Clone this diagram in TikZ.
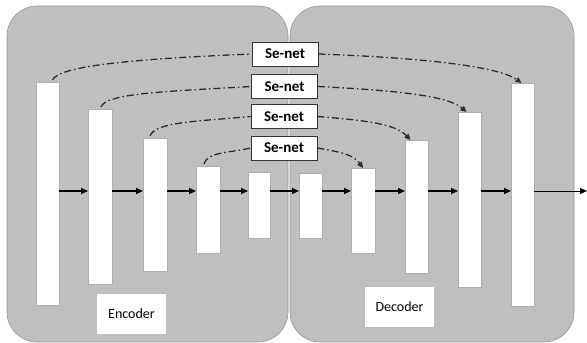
\documentclass[tikz,border=0pt]{standalone}
\usepackage{fontspec}
\setmainfont{Carlito}
\usetikzlibrary{arrows.meta,calc}
\definecolor{panelgray}{RGB}{191,191,191}
\definecolor{paneledge}{RGB}{150,150,150}
\definecolor{baredge}{RGB}{175,175,175}
\definecolor{skipcol}{RGB}{45,45,45}
\begin{document}
\begin{tikzpicture}[x=1pt,y=1pt,
  panel/.style={fill=panelgray,draw=paneledge,line width=0.6pt,rounded corners=30pt},
  bar/.style={fill=white,draw=baredge,line width=0.5pt,inner sep=0pt,outer sep=0pt,anchor=north west},
  sebox/.style={fill=white,draw=black!80,line width=0.8pt,minimum width=66pt,minimum height=24pt,inner sep=0pt,font=\fontsize{15}{16}\selectfont\bfseries},
  lbl/.style={fill=white,inner sep=0pt,font=\fontsize{14}{15}\selectfont},
  flow/.style={line width=1.3pt,-{Triangle[length=7pt,width=6pt]}},
  skip/.style={line width=1.3pt,skipcol,dash pattern=on 7pt off 3pt on 1.5pt off 3pt},
  skiparrow/.style={skip,-{Triangle[length=6pt,width=5.5pt]}}]
\useasboundingbox (0,0) rectangle (587,-343);
% panels
\draw[panel] (7,-6) rectangle (288,-342);
\draw[panel] (290,-6) rectangle (574,-342);
% encoder bars
\node[bar,minimum width=23pt,minimum height=223pt] (b1) at (36,-82) {};
\node[bar,minimum width=24pt,minimum height=175pt] (b2) at (88,-109) {};
\node[bar,minimum width=24pt,minimum height=133pt] (b3) at (143,-138) {};
\node[bar,minimum width=24pt,minimum height=87pt] (b4) at (196,-166) {};
\node[bar,minimum width=22pt,minimum height=66pt] (b5) at (248,-172) {};
% decoder bars
\node[bar,minimum width=23pt,minimum height=65pt] (b6) at (299,-173) {};
\node[bar,minimum width=24pt,minimum height=85pt] (b7) at (351,-168) {};
\node[bar,minimum width=23pt,minimum height=133pt] (b8) at (405,-140) {};
\node[bar,minimum width=23pt,minimum height=175pt] (b9) at (458,-112) {};
\node[bar,minimum width=23pt,minimum height=223pt] (b10) at (511,-83) {};
% labels
\node[lbl,minimum width=69pt,minimum height=40pt] (enc) at (131.5,-314) {Encoder};
\node[lbl,minimum width=69pt,minimum height=40pt] (dec) at (399.5,-307) {Decoder};
% se-net boxes
\node[sebox] (s1) at (285,-54) {Se-net};
\node[sebox] (s2) at (284.5,-86.5) {Se-net};
\node[sebox] (s3) at (284,-116.5) {Se-net};
\node[sebox] (s4) at (284,-148) {Se-net};
% main flow
\coordinate (ay) at (0,-191);
\coordinate (out) at (587,-191);
\draw[flow] (b1.east |- ay) -- (b2.west |- ay);
\draw[flow] (b2.east |- ay) -- (b3.west |- ay);
\draw[flow] (b3.east |- ay) -- (b4.west |- ay);
\draw[flow] (b4.east |- ay) -- (b5.west |- ay);
\draw[flow] (b5.east |- ay) -- (b6.west |- ay);
\draw[flow] (b6.east |- ay) -- (b7.west |- ay);
\draw[flow] (b7.east |- ay) -- (b8.west |- ay);
\draw[flow] (b8.east |- ay) -- (b9.west |- ay);
\draw[flow] (b9.east |- ay) -- (b10.west |- ay);
\draw[flow,line width=1pt] (b10.east |- ay) -- (out);
% skip connections (encoder side)
\draw[skip] ([xshift=5pt,yshift=2pt]b1.north) .. controls +(6,14) and +(-120,-5) .. (s1.west);
\draw[skip] ([xshift=1pt,yshift=2pt]b2.north) .. controls +(5,14) and +(-85,-5) .. (s2.west);
\draw[skip] ([xshift=-5pt,yshift=2pt]b3.north) .. controls +(5,14) and +(-55,-5) .. (s3.west);
\draw[skip] ([xshift=-4pt,yshift=2pt]b4.north) .. controls +(3,12) and +(-22,-5) .. (s4.west);
% skip connections (decoder side)
\draw[skiparrow] (s1.east) .. controls +(110,-4) and +(-22,16) .. ([xshift=-1pt]b10.north);
\draw[skiparrow] (s2.east) .. controls +(80,-4) and +(-18,16) .. ([xshift=-3pt]b9.north);
\draw[skiparrow] (s3.east) .. controls +(50,-4) and +(-15,16) .. ([xshift=-6pt]b8.north);
\draw[skiparrow] (s4.east) .. controls +(22,-4) and +(-10,14) .. (b7.north);
\end{tikzpicture}
\end{document}
